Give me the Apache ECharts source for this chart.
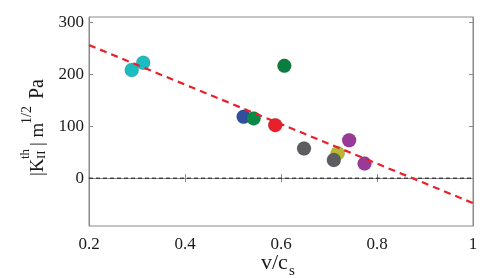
<!DOCTYPE html>
<html><head><meta charset="utf-8">
<script src="https://cdn.jsdelivr.net/npm/echarts@6/dist/echarts.min.js"></script>
<style>html,body{margin:0;padding:0;background:#fff}#c{width:504px;height:278px}</style>
</head><body><div id="c"></div>
<script>
const xTicks = [0.2, 0.4, 0.6, 0.8, 1];
const yTicks = [0, 100, 200, 300];
const xRange = [0.2, 1];
const yRange = [-92, 310];
const pointX = [0.289, 0.313, 0.522, 0.543, 0.588, 0.607, 0.648, 0.718, 0.710, 0.742, 0.774];
const pointY = [208, 222, 118, 115, 102, 216, 57, 48, 35, 73, 28];
const pointColors = ['#1dbcc0', '#1dbcc0', '#2f4f9f', '#0b8a45', '#e8202a', '#0b7d40', '#5b5d61', '#b7b833', '#5b5d61', '#9a3a98', '#9a3a98'];
const fitX = [0.2, 1];
const fitY = [256, -48];
const zeroX = [0.2, 1];
const zeroY = [0, 0];

const FONT = '"Liberation Serif", "Times New Roman", serif';
const TXT = '#1a1a1a';
const AX = '#8a8a8a';

const chart = echarts.init(document.getElementById('c'), null, {renderer: 'canvas'});

function axisCommon(showLabels, ticks, fmt, margin) {
  return {
    axisLine: {show: true, lineStyle: {color: AX, width: 1}},
    axisTick: {show: true, inside: true, length: 4, customValues: ticks, lineStyle: {color: AX, width: 1}},
    axisLabel: showLabels ? {show: true, customValues: ticks, fontFamily: FONT, fontSize: 17, color: TXT, margin: margin, formatter: fmt} : {show: false},
    splitLine: {show: false}
  };
}

const option = {
  animation: false,
  backgroundColor: '#fff',
  grid: {left: 89, right: 31, top: 17, bottom: 52, show: true, borderColor: AX, borderWidth: 1, backgroundColor: 'transparent'},
  xAxis: [
    Object.assign({type: 'value', position: 'bottom', min: xRange[0], max: xRange[1]},
      axisCommon(true, xTicks, v => String(Math.round(v * 10) / 10), 10)),
    Object.assign({type: 'value', position: 'top', min: xRange[0], max: xRange[1]}, axisCommon(false, xTicks))
  ],
  yAxis: [
    Object.assign({type: 'value', position: 'left', min: yRange[0], max: yRange[1]},
      axisCommon(true, yTicks, v => String(v), 5)),
    Object.assign({type: 'value', position: 'right', min: yRange[0], max: yRange[1]}, axisCommon(false, yTicks))
  ],
  series: [
    {
      type: 'line', xAxisIndex: 0, yAxisIndex: 0, symbol: 'none', z: 2,
      data: zeroX.map((x, i) => [x, zeroY[i]]),
      lineStyle: {color: '#111', width: 1, type: [4, 3]}
    },
    {
      type: 'scatter', xAxisIndex: 0, yAxisIndex: 0, symbol: 'circle', symbolSize: 14, z: 3,
      data: pointX.map((x, i) => [x, pointY[i]]),
      itemStyle: {color: p => pointColors[p.dataIndex], opacity: 1, borderColor: 'rgba(0,0,0,0.15)', borderWidth: 0.8}
    },
    {
      type: 'line', xAxisIndex: 0, yAxisIndex: 0, symbol: 'none', z: 4,
      data: fitX.map((x, i) => [x, fitY[i]]),
      lineStyle: {color: '#e8202a', width: 2.2, type: [7, 5]}
    }
  ],
  graphic: [
    {
      type: 'group', x: 44, y: 176, rotation: Math.PI / 2,
      children: [
        {type: 'text', x: 0, y: -6, style: {text: '|K', font: '19px ' + FONT, fill: TXT, align: 'left', verticalAlign: 'middle'}},
        {type: 'text', x: 17, y: -18, style: {text: 'th', font: '13px ' + FONT, fill: TXT, align: 'left', verticalAlign: 'middle'}},
        {type: 'text', x: 17, y: -2.5, style: {text: 'II', font: '13px ' + FONT, fill: TXT, align: 'left', verticalAlign: 'middle'}},
        {type: 'text', x: 30, y: -6, style: {text: '| m', font: '19px ' + FONT, fill: TXT, align: 'left', verticalAlign: 'middle'}},
        {type: 'text', x: 52, y: -17, style: {text: '1/2', font: '14px ' + FONT, fill: TXT, align: 'left', verticalAlign: 'middle'}},
        {type: 'text', x: 77, y: -6, style: {text: 'Pa', font: '20px ' + FONT, fill: TXT, align: 'left', verticalAlign: 'middle'}}
      ]
    },
    {
      type: 'group', x: 261, y: 270,
      children: [
        {type: 'text', x: 0, y: -7, style: {text: 'v/c', font: '22px ' + FONT, fill: TXT, align: 'left', verticalAlign: 'middle'}},
        {type: 'text', x: 28, y: 1.5, style: {text: 's', font: '15px ' + FONT, fill: TXT, align: 'left', verticalAlign: 'middle'}}
      ]
    }
  ]
};
chart.setOption(option);
</script>
</body></html>
